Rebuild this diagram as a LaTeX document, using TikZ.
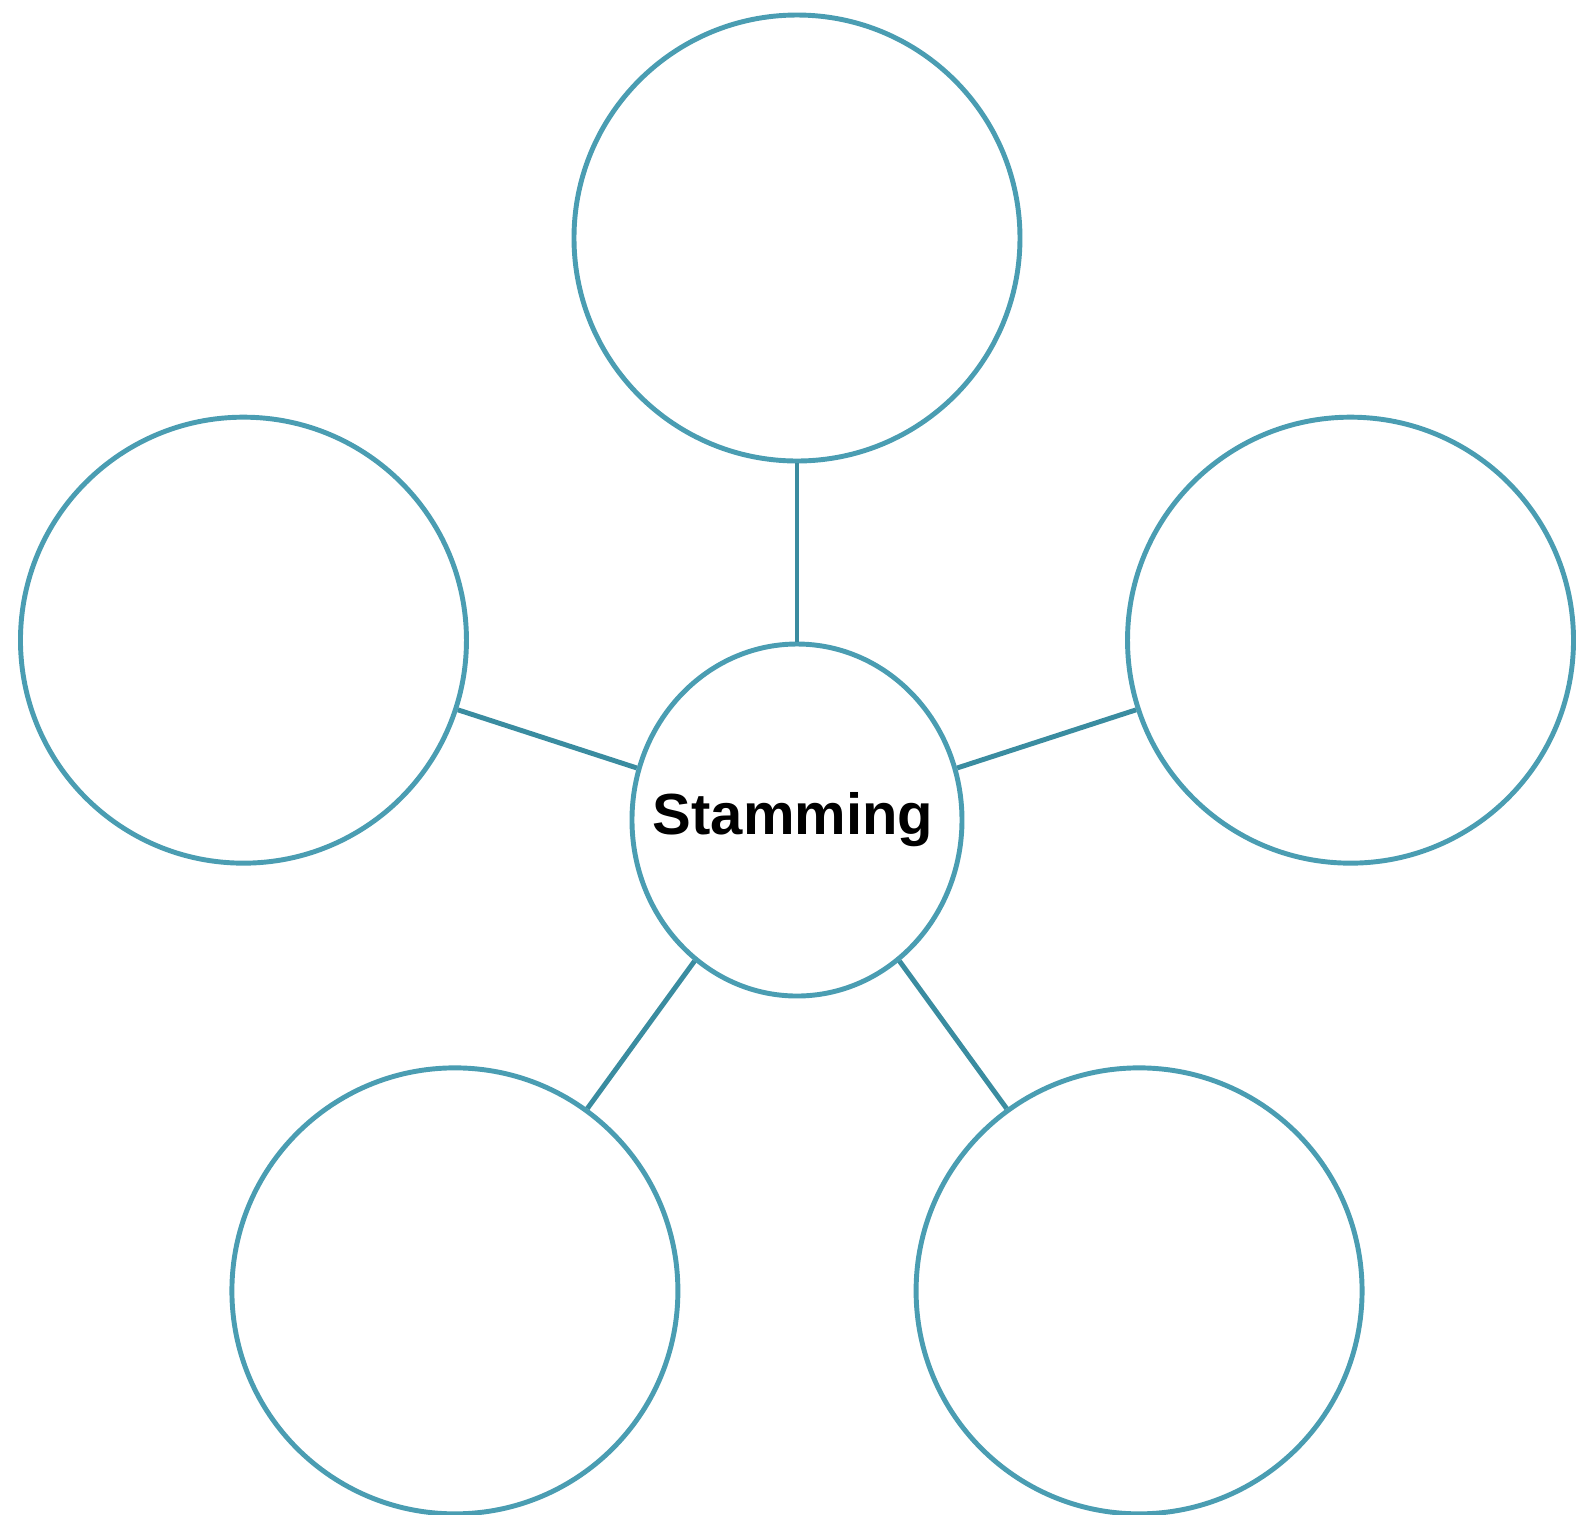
\documentclass[tikz,border=0pt]{standalone}
\usepackage{fontspec}
\setmainfont{Liberation Sans}
\usepackage{tikz}
\usetikzlibrary{shapes.geometric, positioning}
\definecolor{ringblue}{RGB}{74, 157, 178}
\definecolor{linkblue}{RGB}{58, 140, 160}

\begin{document}
\begin{tikzpicture}[
    hub/.style={
        ellipse,
        draw=ringblue,
        line width=1.4pt,
        fill=white,
        minimum width=3.30cm,
        minimum height=3.52cm,
        inner sep=0pt
    },
    hubtext/.style={
        font=\bfseries\fontsize{16.5}{18}\selectfont,
        inner sep=0pt
    },
    spoke/.style={
        circle,
        draw=ringblue,
        line width=1.4pt,
        fill=white,
        minimum size=4.46cm,
        inner sep=0pt
    },
    link/.style={
        line width=1.4pt,
        draw=linkblue
    }
]
\useasboundingbox (-7.97,-6.94) rectangle (7.79,8.20);

% ==================== CENTRE ====================
\node (stamming) [hub] at (0,0) {};
\node (stamming_text) [hubtext] at ([xshift=-0.04cm]stamming.center) {Stamming};

% ==================== OUTER CIRCLES ====================
\node (top)   [spoke] at (90:5.82)  {};
\node (left)  [spoke] at (162:5.82) {};
\node (botl)  [spoke] at (234:5.82) {};
\node (botr)  [spoke] at (306:5.82) {};
\node (right) [spoke] at (18:5.82)  {};

% ==================== CONNECTIONS ====================
\draw [link] (stamming) -- (top);
\draw [link] (stamming) -- (left);
\draw [link] (stamming) -- (botl);
\draw [link] (stamming) -- (botr);
\draw [link] (stamming) -- (right);

\end{tikzpicture}
\end{document}
